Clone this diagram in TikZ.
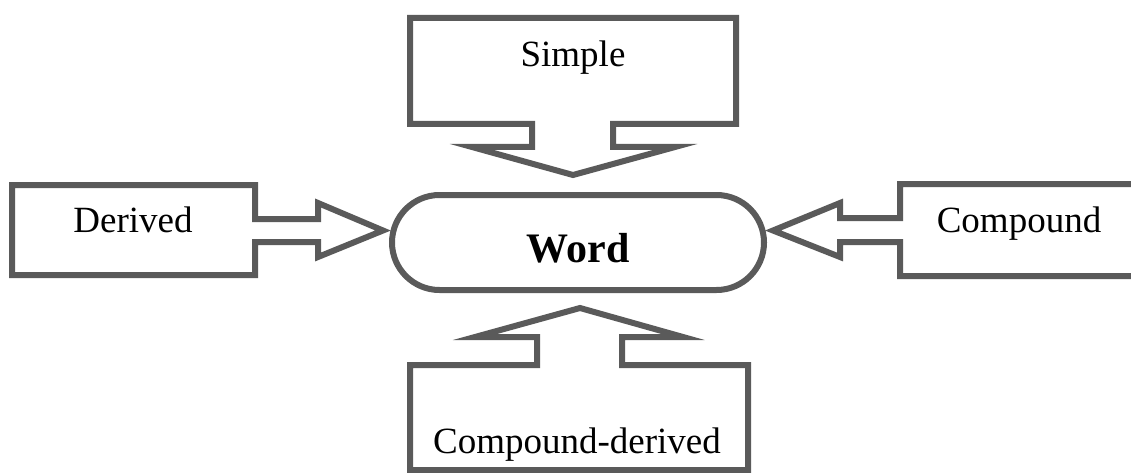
\documentclass[tikz,border=0pt]{standalone}
\usepackage{fontspec}
\setmainfont{Liberation Serif}
\usetikzlibrary{shapes.misc}
\definecolor{lineg}{RGB}{90,90,90}
\begin{document}
\begin{tikzpicture}[x=1pt,y=-1pt,
  callout/.style={draw=lineg, line width=6pt, fill=white, line join=miter, miter limit=20},
  lbl/.style={font=\fontsize{37}{44}\selectfont, anchor=base, inner sep=0pt}]
\useasboundingbox (0,0) rectangle (1131,473);
\clip (0,0) rectangle (1131,473);
% central word
\node[rounded rectangle, draw=lineg, line width=6pt, fill=white,
      minimum width=372pt, minimum height=95pt, inner sep=0pt] (word) at (578,242.5) {};
\node[anchor=base, inner sep=0pt, font=\fontsize{42}{50}\selectfont\bfseries] (wordlbl) at (578,262) {Word};
% top callout
\draw[callout] (410,18) -- (736,18) -- (736,124) -- (613,124) -- (613,147) -- (675,147)
  -- (573,175) -- (472,147) -- (532,147) -- (532,124) -- (410,124) -- cycle;
\node[lbl] (simple) at (573,67) {Simple};
% left callout
\draw[callout] (12,185) -- (255,185) -- (255,219) -- (318,219) -- (318,203) -- (383,230.5)
  -- (318,257) -- (318,242) -- (255,242) -- (255,275) -- (12,275) -- cycle;
\node[lbl] (derived) at (133,232) {Derived};
% right callout
\draw[callout] (1145,184) -- (900,184) -- (900,218) -- (840,218) -- (840,203) -- (773,230.5)
  -- (840,257) -- (840,242) -- (900,242) -- (900,276) -- (1145,276);
\node[lbl] (compound) at (1019,232) {Compound};
% bottom callout
\draw[callout] (410,470) -- (410,365) -- (537,365) -- (537,337) -- (475,337) -- (580,308)
  -- (683,337) -- (622,337) -- (622,365) -- (748,365) -- (748,470) -- cycle;
\node[lbl] (compder) at (577,453) {Compound-derived};
\end{tikzpicture}
\end{document}
